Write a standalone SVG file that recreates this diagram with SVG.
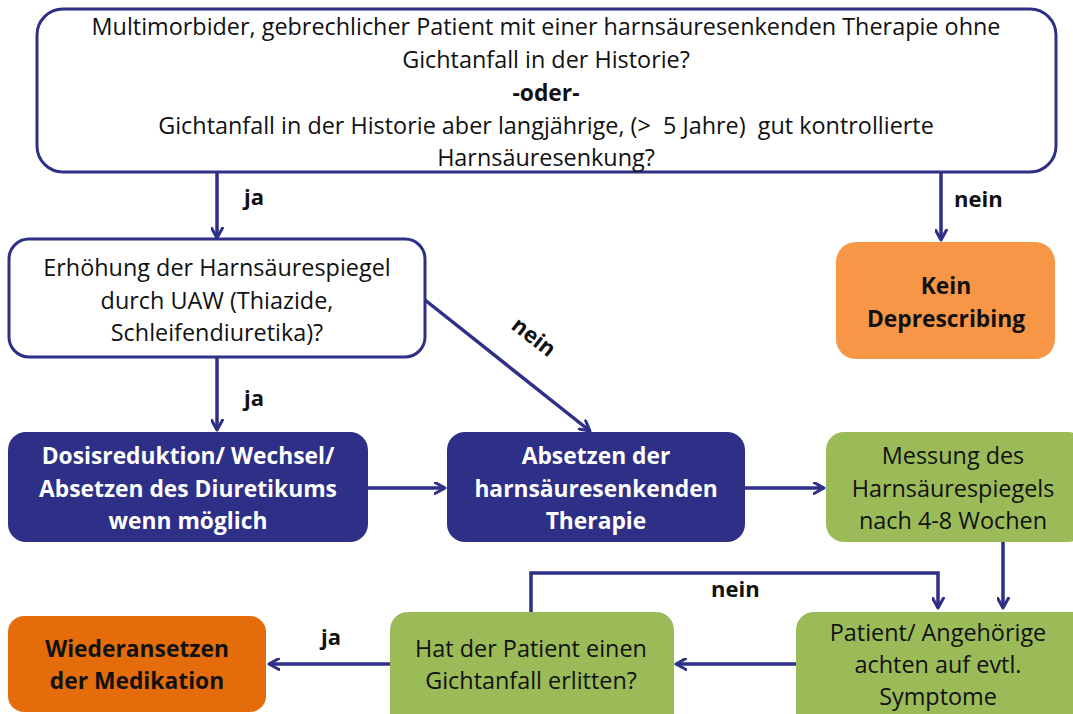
<svg xmlns="http://www.w3.org/2000/svg" width="1073" height="714" viewBox="0 0 1073 714">
<defs>
<style>
text{font-family:"Open Sans","Liberation Sans",sans-serif;font-size:23.4px;text-anchor:middle;fill:#111}
.b{font-weight:bold;font-size:22.8px}
.w{fill:#fff}
.lbl{font-weight:bold;font-size:22px;text-anchor:start}
.q{fill:#fff;stroke:#2E2F86;stroke-width:3}
.navy{fill:#2E2F86}
.green{fill:#9BBB59}
.orange{fill:#F79646}
.dorange{fill:#E46C0A}
.c{fill:none;stroke:#2E2F86;stroke-width:3.5;marker-end:url(#ah)}
</style>
<marker id="ah" viewBox="0 0 13 13" refX="11" refY="6.5" markerWidth="13" markerHeight="13" markerUnits="userSpaceOnUse" orient="auto">
<path d="M1,1 L11,6.5 L1,12" fill="none" stroke="#2E2F86" stroke-width="3" stroke-linecap="round" stroke-linejoin="round"/>
</marker>
</defs>
<rect width="1073" height="714" fill="#fff"/>
<g id="connectors">
<path class="c" d="M217,172 V238"/>
<path class="c" d="M941,172 V240"/>
<path class="c" d="M425,300 L590,431"/>
<path class="c" d="M217,357 V430"/>
<path class="c" d="M368,488 H445"/>
<path class="c" d="M745,488 H824"/>
<path class="c" d="M1003,541 V608"/>
<path class="c" d="M796,664 H676"/>
<path class="c" d="M531,612 V573 H938 V608"/>
<path class="c" d="M390,664 H269"/>
<text class="lbl" x="244" y="205">ja</text>
<text class="lbl" x="954" y="207">nein</text>
<text class="lbl" x="244" y="406">ja</text>
<text class="lbl" x="0" y="0" transform="translate(510,328) rotate(38)">nein</text>
<text class="lbl" x="711" y="597">nein</text>
<text class="lbl" x="321" y="645">ja</text>
</g>
<g id="n-start">
<rect class="q" x="37" y="9" width="1019" height="163" rx="26"/>
<text x="546" y="35">Multimorbider, gebrechlicher Patient mit einer harnsäuresenkenden Therapie ohne</text>
<text x="546" y="68">Gichtanfall in der Historie?</text>
<text x="546" y="101" class="b">-oder-</text>
<text x="546" y="134">Gichtanfall in der Historie aber langjährige, (&gt; &#160;5 Jahre) &#160;gut kontrollierte</text>
<text x="546" y="166">Harnsäuresenkung?</text>
</g>
<g id="n-uaw">
<rect class="q" x="9" y="239" width="416" height="118" rx="20"/>
<text x="217" y="276">Erhöhung der Harnsäurespiegel</text>
<text x="217" y="309">durch UAW (Thiazide,</text>
<text x="217" y="341">Schleifendiuretika)?</text>
</g>
<g id="n-kein">
<rect class="orange" x="836" y="242" width="219" height="117" rx="20"/>
<text x="946" y="294" class="b">Kein</text>
<text x="946" y="327" class="b">Deprescribing</text>
</g>
<g id="n-dosis">
<rect class="navy" x="8" y="432" width="360" height="110" rx="18"/>
<text x="188" y="464" class="b w">Dosisreduktion/ Wechsel/</text>
<text x="188" y="497" class="b w">Absetzen des Diuretikums</text>
<text x="188" y="529" class="b w">wenn möglich</text>
</g>
<g id="n-absetzen">
<rect class="navy" x="447" y="432" width="298" height="110" rx="18"/>
<text x="596" y="464" class="b w">Absetzen der</text>
<text x="596" y="497" class="b w">harnsäuresenkenden</text>
<text x="596" y="529" class="b w">Therapie</text>
</g>
<g id="n-messung">
<rect class="green" x="826" y="432" width="260" height="110" rx="18"/>
<text x="953" y="464">Messung des</text>
<text x="953" y="497">Harnsäurespiegels</text>
<text x="953" y="529">nach 4-8 Wochen</text>
</g>
<g id="n-patient">
<rect class="green" x="796" y="612" width="310" height="120" rx="18"/>
<text x="938" y="641">Patient/ Angehörige</text>
<text x="938" y="673">achten auf evtl.</text>
<text x="938" y="705">Symptome</text>
</g>
<g id="n-hat">
<rect class="green" x="390" y="612" width="284" height="120" rx="18"/>
<text x="531" y="657">Hat der Patient einen</text>
<text x="531" y="689">Gichtanfall erlitten?</text>
</g>
<g id="n-wieder">
<rect class="dorange" x="8" y="616" width="258" height="96" rx="16"/>
<text x="137" y="657" class="b">Wiederansetzen</text>
<text x="137" y="689" class="b">der Medikation</text>
</g>
</svg>
